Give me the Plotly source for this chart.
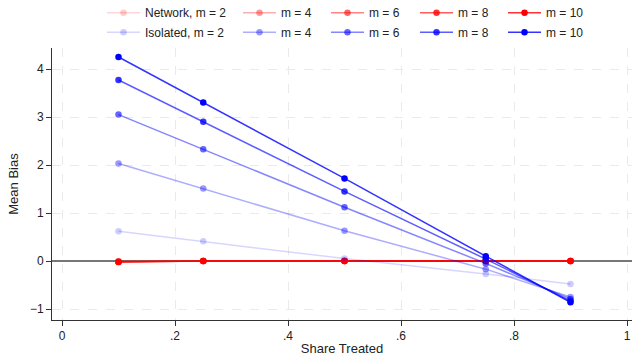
import plotly.graph_objects as go

share = [0.1, 0.25, 0.5, 0.75, 0.9]
m_values = [2, 4, 6, 8, 10]

network = {
    2: [0.00, 0.00, 0.01, 0.00, 0.00],
    4: [-0.01, 0.00, 0.00, 0.00, 0.00],
    6: [-0.01, 0.00, 0.00, 0.00, 0.00],
    8: [-0.02, 0.00, 0.00, 0.00, 0.00],
    10: [-0.02, 0.00, 0.00, 0.00, 0.00],
}
isolated = {
    2: [0.62, 0.41, 0.05, -0.27, -0.48],
    4: [2.03, 1.51, 0.63, -0.17, -0.75],
    6: [3.05, 2.33, 1.12, -0.05, -0.79],
    8: [3.77, 2.90, 1.45, 0.04, -0.83],
    10: [4.25, 3.30, 1.72, 0.10, -0.86],
}
alphas = [0.2, 0.4, 0.6, 0.8, 1.0]

x_tickvals = [0, 0.2, 0.4, 0.6, 0.8, 1]
x_ticktext = ["0", ".2", ".4", ".6", ".8", "1"]
y_tickvals = [-1, 0, 1, 2, 3, 4]

FONT = "Liberation Sans, Arial, Helvetica, sans-serif"

fig = go.Figure()

# legend layout (pixels): column left edges, row centres
col_px = [102, 238, 326, 415, 503]
row_px = [12.7, 32.3]
plot_l, plot_w, plot_t, plot_h = 52, 580, 48, 272

legend_layout = {}
n = 0
for r, (name_prefix, rgb, data) in enumerate([
    ("Network", "255,0,0", network),
    ("Isolated", "0,0,255", isolated),
]):
    for i, m in enumerate(m_values):
        a = alphas[i]
        n += 1
        key = "legend" if n == 1 else f"legend{n}"
        fig.add_trace(go.Scatter(
            x=share, y=data[m], mode="lines+markers",
            name=(f"{name_prefix}, m = {m}") if i == 0 else f"m = {m}",
            line=dict(color=f"rgba({rgb},{a * 0.8:.3f})", width=1.5),
            marker=dict(color=f"rgba({rgb},{a})", size=6.5),
            legend=key,
        ))
        legend_layout[key] = dict(
            x=(col_px[i] - plot_l) / plot_w, xanchor="left",
            y=(plot_t + plot_h - row_px[r]) / plot_h, yanchor="middle",
            orientation="v", bgcolor="rgba(0,0,0,0)",
            font=dict(family=FONT, size=12, color="#222"),
            itemwidth=33,
        )

fig.update_layout(
    width=633, height=356,
    margin=dict(l=52, r=1, t=48, b=36, autoexpand=False),
    paper_bgcolor="white", plot_bgcolor="white",
    font=dict(family=FONT, size=12, color="#222"),
    showlegend=True,
    **legend_layout,
)

fig.update_xaxes(
    range=[-10 / 565, 1 + 5 / 565],
    tickvals=x_tickvals, ticktext=x_ticktext,
    ticks="outside", ticklen=5, tickcolor="#333",
    showline=True, linecolor="#333", linewidth=1,
    showgrid=True, gridcolor="#eaeaea", griddash="dash", gridwidth=1,
    zeroline=False,
    title=dict(text="Share Treated", font=dict(size=13), standoff=8),
    tickfont=dict(size=12),
)
fig.update_yaxes(
    range=[-59 / 48, 213 / 48],
    tickvals=y_tickvals,
    ticks="outside", ticklen=5, tickcolor="#333",
    showline=True, linecolor="#333", linewidth=1,
    showgrid=True, gridcolor="#eaeaea", griddash="dash", gridwidth=1,
    zeroline=True, zerolinecolor="#777", zerolinewidth=1.5,
    title=dict(text="Mean Bias", font=dict(size=13), standoff=8),
    tickfont=dict(size=12),
)

fig.write_html("out.html")
